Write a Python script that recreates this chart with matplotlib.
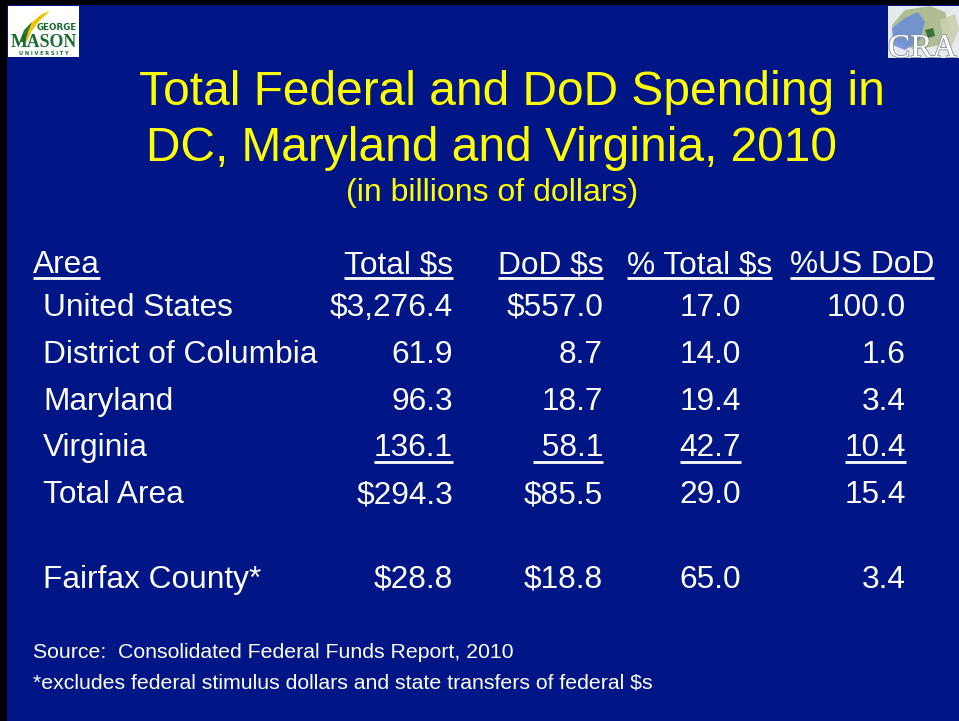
import matplotlib
matplotlib.use("Agg")
import matplotlib.pyplot as plt
from matplotlib.patches import Rectangle, Polygon
import matplotlib.patheffects as pe

# ---- data ----
title_line1 = "Total Federal and DoD Spending in"
title_line2 = "DC, Maryland and Virginia, 2010"
subtitle = "(in billions of dollars)"
headers = ["Area", "Total $s", "DoD $s", "% Total $s", "%US DoD"]
areas = ["United States", "District of Columbia", "Maryland", "Virginia",
         "Total Area", "Fairfax County*"]
total_usd = ["$3,276.4", "61.9", "96.3", "136.1", "$294.3", "$28.8"]
dod_usd = ["$557.0", "8.7", "18.7", " 58.1", "$85.5", "$18.8"]
pct_total = ["17.0", "14.0", "19.4", "42.7", "29.0", "65.0"]
pct_us_dod = ["100.0", "1.6", "3.4", "10.4", "15.4", "3.4"]
underlined_row = "Virginia"
source = "Source:  Consolidated Federal Funds Report, 2010"
footnote = "*excludes federal stimulus dollars and state transfers of federal $s"

# ---- style ----
W, H = 959, 721
NAVY = "#001687"
YELLOW = "#FFFF00"
FONT = "Liberation Sans"
plt.rcParams["font.family"] = [FONT, "DejaVu Sans"]

fig = plt.figure(figsize=(W / 100, H / 100), dpi=100)
fig.patch.set_facecolor("black")
ax = fig.add_axes([0, 0, 1, 1])
ax.set_xlim(0, W)
ax.set_ylim(H, 0)
ax.axis("off")

# slide background (black border top and left)
ax.add_patch(Rectangle((7, 5), W - 7, H - 5, facecolor=NAVY, edgecolor="none", zorder=0))

# ---- logos (simple approximations) ----
gmu_bg = Rectangle((8, 6), 71, 51, facecolor="white", edgecolor="none", zorder=1)
ax.add_patch(gmu_bg)
ax.add_patch(Polygon([(22, 40), (30, 24), (42, 14), (50, 11), (40, 20), (31, 32), (27, 42)],
                     closed=True, facecolor="#f2c200", edgecolor="none", zorder=2))
ax.add_patch(Polygon([(20, 42), (24, 30), (32, 22), (28, 32), (25, 42)],
                     closed=True, facecolor="#2a7a35", edgecolor="none", zorder=2))
GREEN = "#1a6b32"
ax.text(77, 29.5, "GEORGE", color=GREEN, fontsize=6.3, fontweight="bold",
        ha="right", va="baseline", family="DejaVu Sans", zorder=3)
m = ax.text(44, 47, "MASON", color=GREEN, fontsize=12.8, fontweight="bold",
            ha="center", va="baseline", family="Liberation Serif", zorder=3)
m.set_clip_path(gmu_bg)
ax.text(44, 55, "U N I V E R S I T Y", color=GREEN, fontsize=3.6, fontweight="bold",
        ha="center", va="baseline", family="DejaVu Sans", zorder=3)

cra_bg = Rectangle((888, 6), W - 888, 52, facecolor="#e6eaee", edgecolor="none", zorder=1)
ax.add_patch(cra_bg)
shapes = [
    ([(905, 10), (930, 6), (945, 12), (950, 30), (940, 45), (915, 50), (895, 40), (892, 25)], "#a9b98a"),
    ([(892, 28), (905, 18), (918, 12), (925, 22), (920, 40), (905, 50), (893, 45)], "#6d8fd6"),
    ([(925, 30), (933, 28), (935, 36), (928, 38)], "#2f6b2f"),
    ([(940, 20), (955, 14), (959, 30), (950, 50), (943, 40)], "#c9d0b0"),
]
for pts, col in shapes:
    p = Polygon(pts, closed=True, facecolor=col, edgecolor="none", zorder=2, alpha=0.9)
    ax.add_patch(p)
    p.set_clip_path(cra_bg)
t = ax.text(888, 57, "CRA", color="white", fontsize=24, family="Liberation Serif",
            ha="left", va="baseline", zorder=3,
            path_effects=[pe.withStroke(linewidth=1.2, foreground="#8a8f99")])
t.set_clip_path(cra_bg)

# ---- title ----
ax.text(139, 105, title_line1, color=YELLOW, fontsize=34.5, ha="left", va="baseline")
ax.text(146, 161, title_line2, color=YELLOW, fontsize=34.5, ha="left", va="baseline")
ax.text(346, 201, subtitle, color=YELLOW, fontsize=23, ha="left", va="baseline")

# ---- table ----
FS = 22.8
header_y = 273
header_x = [33, 453, 603, 772, 934]
header_ha = ["left", "right", "right", "right", "right"]
col_right = [453, 603, 741, 906]
row_y = [316, 363, 410, 456, 503, 588]
area_x = 43

fig.canvas.draw()
renderer = fig.canvas.get_renderer()
inv = ax.transData.inverted()


def underline(txt, y):
    bb = txt.get_window_extent(renderer)
    (x0, _), (x1, _) = inv.transform([(bb.x0, bb.y0), (bb.x1, bb.y1)])
    ax.plot([x0, x1], [y, y], color="white", lw=2.0, solid_capstyle="butt", zorder=4)


for label, x, ha in zip(headers, header_x, header_ha):
    tx = ax.text(x, header_y, label, color="white", fontsize=FS, ha=ha, va="baseline")
    underline(tx, header_y + 5)

columns = [total_usd, dod_usd, pct_total, pct_us_dod]
for i, area in enumerate(areas):
    y = row_y[i]
    ax.text(area_x, y, area, color="white", fontsize=FS, ha="left", va="baseline")
    for col, xr in zip(columns, col_right):
        tx = ax.text(xr, y, col[i], color="white", fontsize=FS, ha="right", va="baseline")
        if area == underlined_row:
            underline(tx, y + 5.5)

# ---- notes ----
ax.text(33, 658, source, color="white", fontsize=15.3, ha="left", va="baseline")
ax.text(33, 689, footnote, color="white", fontsize=15.3, ha="left", va="baseline")

fig.savefig("out.png", dpi=100, facecolor=fig.get_facecolor())
